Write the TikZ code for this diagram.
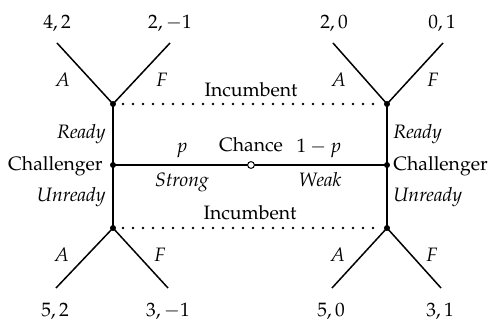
\documentclass[tikz,border=0pt]{standalone}
\usepackage[T1]{fontenc}
\usepackage{mathpazo}
\begin{document}
\begin{tikzpicture}[x=0.5pt,y=-0.5pt,font=\fontsize{9.7}{12}\selectfont,
  edge/.style={line width=0.75pt},
  info/.style={line width=1.3pt,dash pattern=on 0pt off 5pt,line cap=round},
  dnode/.style={circle,fill,inner sep=0pt,minimum size=3pt},
  cnode/.style={circle,draw,fill=white,inner sep=0pt,minimum size=3.4pt,line width=0.5pt},
  lab/.style={inner sep=0pt,anchor=base},
  labr/.style={inner sep=0pt,anchor=base east},
  labl/.style={inner sep=0pt,anchor=base west}]
\useasboundingbox (0,0) rectangle (489,321);
% decision / chance points
\coordinate (tl) at (113,104);
\coordinate (tr) at (387,104);
\coordinate (cl) at (113,165);
\coordinate (cr) at (387,165);
\coordinate (bl) at (113,228);
\coordinate (br) at (387,228);
\coordinate (ch) at (251,165);
% leaves
\coordinate (tlA) at (57,43);  \coordinate (tlF) at (170,43);
\coordinate (trA) at (333,43); \coordinate (trF) at (443,43);
\coordinate (blA) at (56,288); \coordinate (blF) at (168,288);
\coordinate (brA) at (332,288);\coordinate (brF) at (441,288);
% edges
\draw[edge] (tl) -- (cl) -- (bl);
\draw[edge] (tr) -- (cr) -- (br);
\draw[edge] (cl) -- (ch) -- (cr);
\draw[edge] (tlA) -- (tl) -- (tlF);
\draw[edge] (trA) -- (tr) -- (trF);
\draw[edge] (blA) -- (bl) -- (blF);
\draw[edge] (brA) -- (br) -- (brF);
% information sets
\draw[info,shorten <=5pt,shorten >=3pt] (tl) -- (tr);
\draw[info,shorten <=5pt,shorten >=3pt] (bl) -- (br);
% node markers
\node[dnode] (ntl) at (tl) {};
\node[dnode] (ntr) at (tr) {};
\node[dnode] (ncl) at (cl) {};
\node[dnode] (ncr) at (cr) {};
\node[dnode] (nbl) at (bl) {};
\node[dnode] (nbr) at (br) {};
\node[cnode] (nch) at (ch) {};
% payoffs
\node[lab] (p1) at (57,28) {$4,2$};
\node[lab] (p2) at (170,28) {$2,-1$};
\node[lab] (p3) at (334,28) {$2,0$};
\node[lab] (p4) at (442,28) {$0,1$};
\node[lab] (p5) at (55,316) {$5,2$};
\node[lab] (p6) at (168,316) {$3,-1$};
\node[lab] (p7) at (331,316) {$5,0$};
\node[lab] (p8) at (440,316) {$3,1$};
% actions
\node[lab] (a1) at (63,87) {\textit{A}};
\node[lab] (f1) at (162,87) {\textit{F}};
\node[lab] (a2) at (339,87) {\textit{A}};
\node[lab] (f2) at (433,87) {\textit{F}};
\node[lab] (a3) at (62,262) {\textit{A}};
\node[lab] (f3) at (160,262) {\textit{F}};
\node[lab] (a4) at (338,262) {\textit{A}};
\node[lab] (f4) at (432,262) {\textit{F}};
% information set labels
\node[lab] (inc1) at (251,97) {Incumbent};
\node[lab] (inc2) at (250,220) {Incumbent};
% challenger labels
\node[labr] (rdl) at (106,139) {\textit{Ready}};
\node[labr] (chl) at (103,170) {Challenger};
\node[labr] (url) at (106,201) {\textit{Unready}};
\node[labl] (rdr) at (393,139) {\textit{Ready}};
\node[labl] (chr) at (393,170) {Challenger};
\node[labl] (urr) at (393,201) {\textit{Unready}};
% chance labels
\node[lab] (pp) at (182,153) {$p$};
\node[lab] (chn) at (251,152) {Chance};
\node[lab] (qq) at (319,153) {$1-p$};
\node[lab] (st) at (182,187) {\textit{Strong}};
\node[lab] (wk) at (320,187) {\textit{Weak}};
\end{tikzpicture}
\end{document}
